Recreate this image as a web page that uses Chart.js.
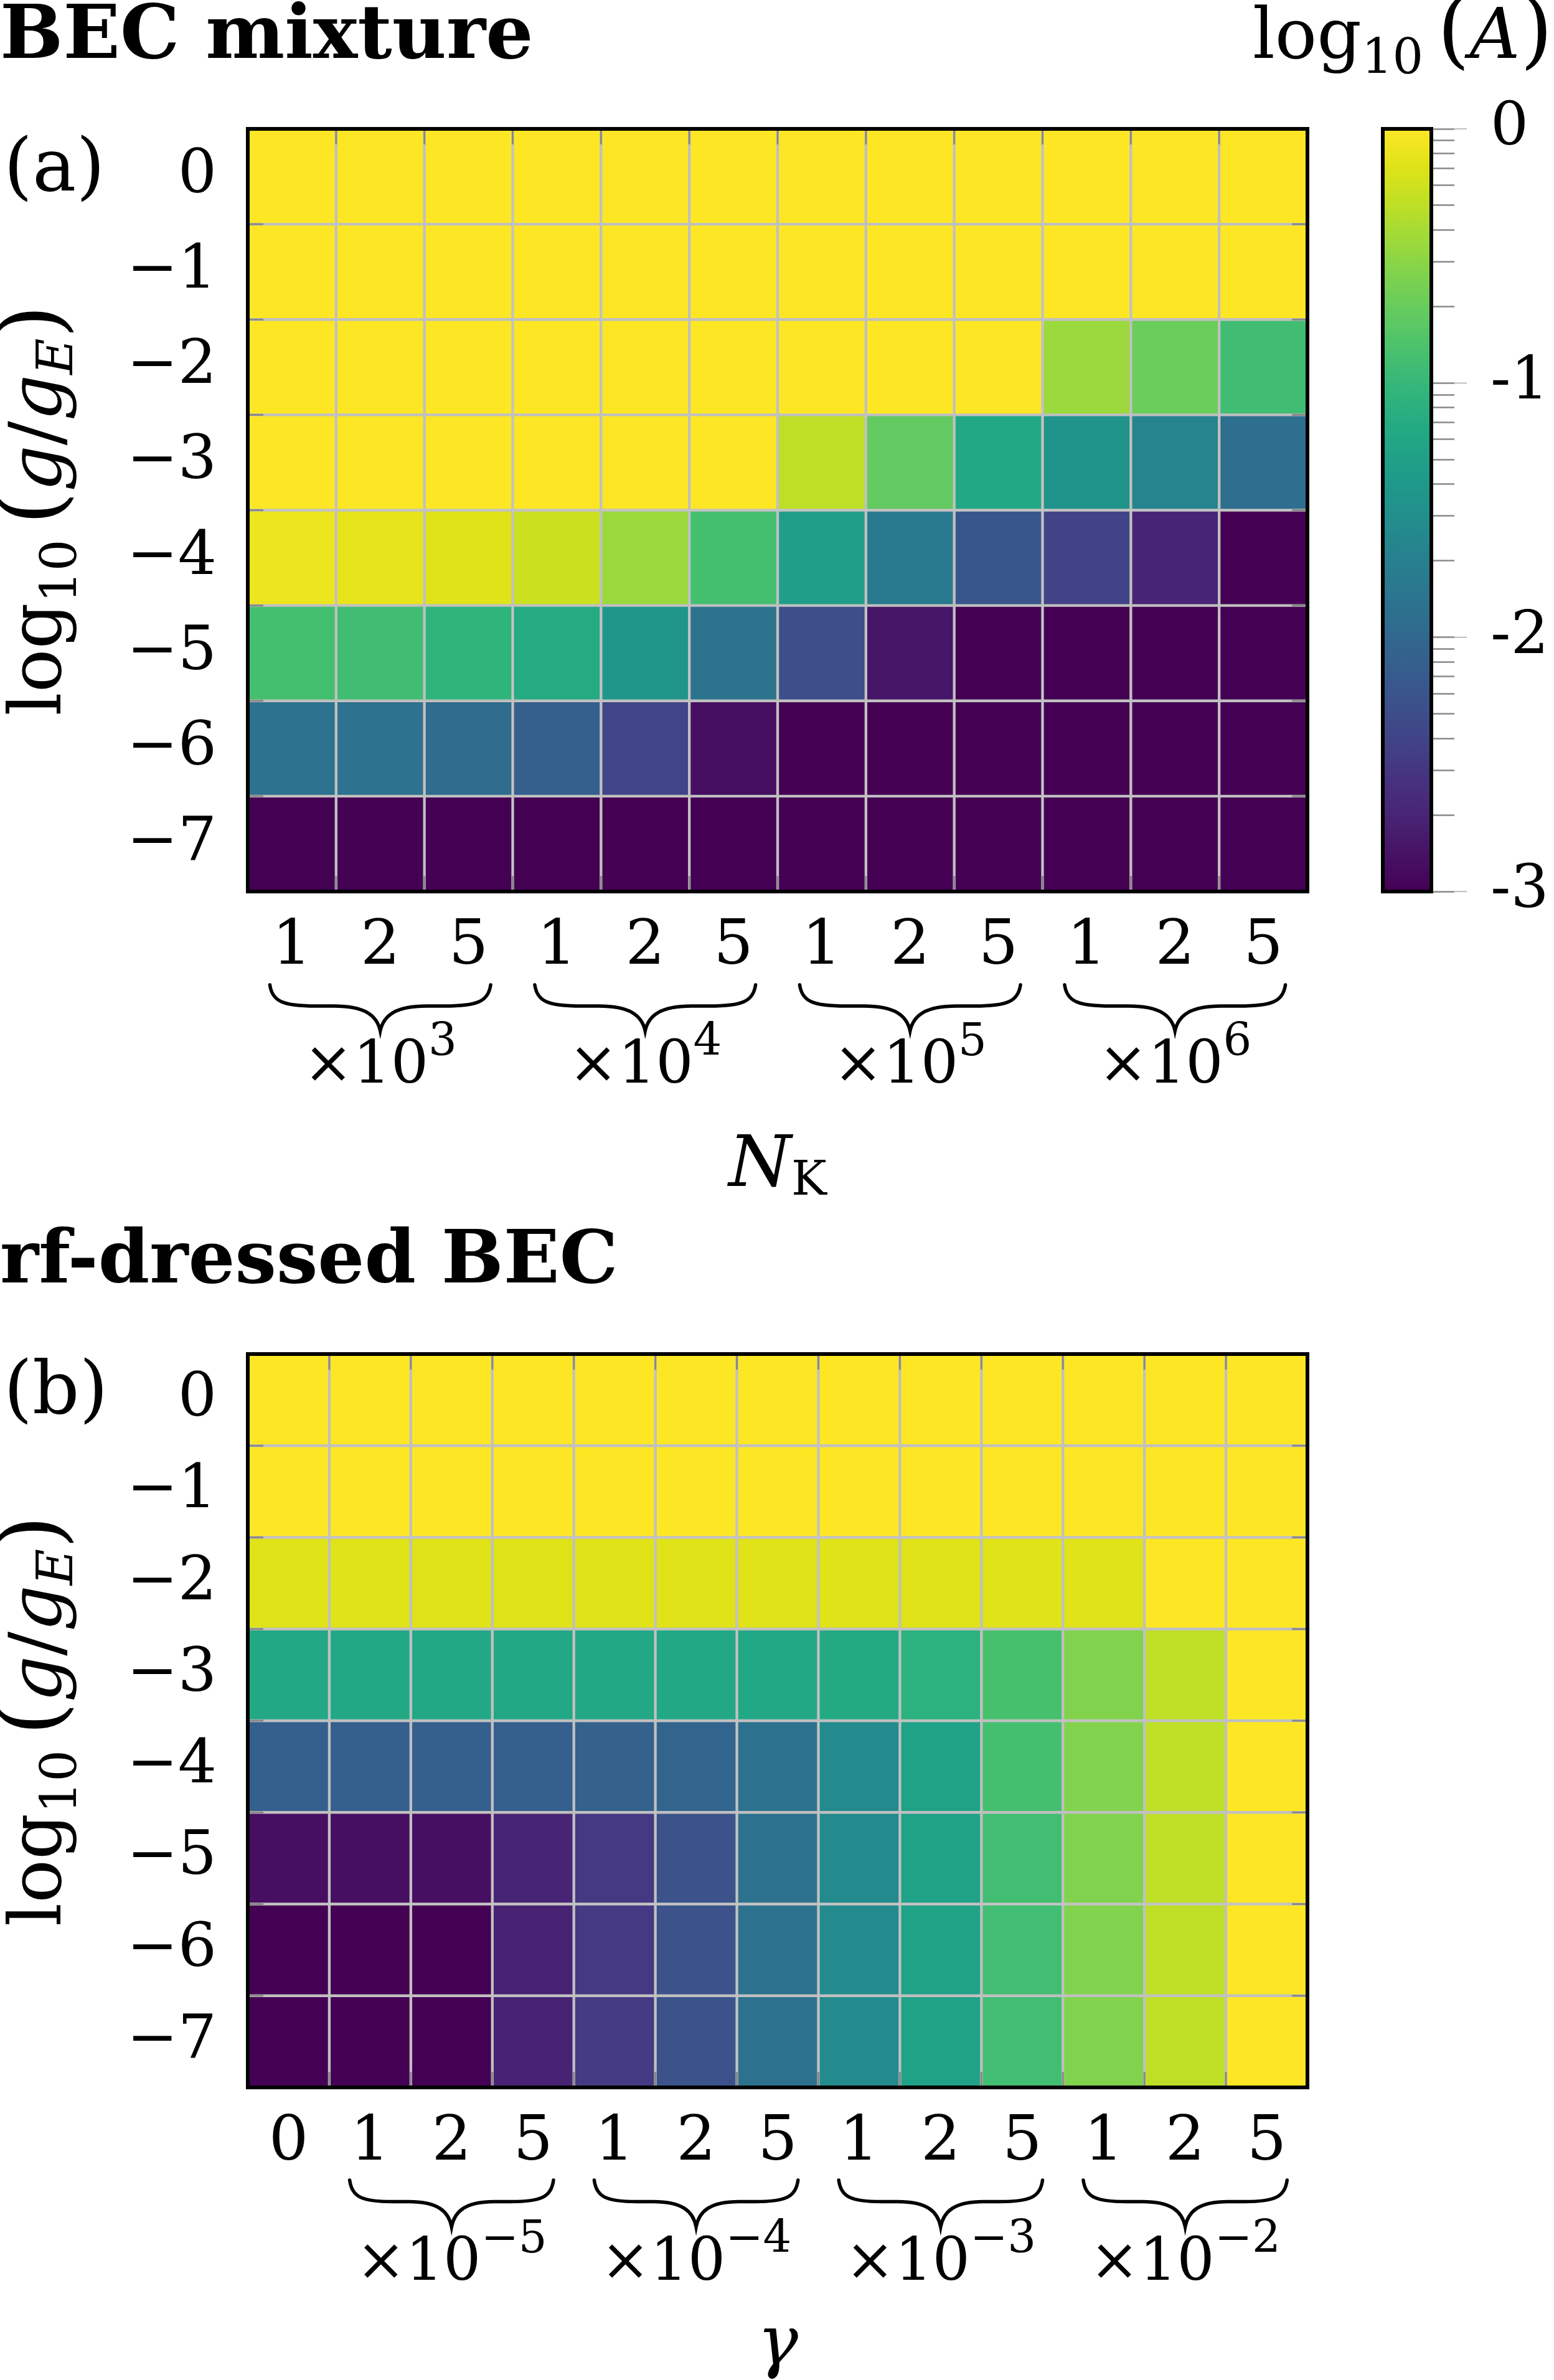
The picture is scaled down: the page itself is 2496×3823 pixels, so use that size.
<!DOCTYPE html>
<html>
<head>
<meta charset="utf-8">
<script src="https://cdn.jsdelivr.net/npm/chart.js@4.4.0/dist/chart.umd.min.js"></script>
<style>
html, body { margin: 0; padding: 0; background: #fff; }
body { width: 2496px; height: 3823px; position: relative; overflow: hidden; }
canvas { position: absolute; }
</style>
</head>
<body>
<canvas id="mix" width="2496" height="1950" style="left:0;top:0"></canvas>
<canvas id="cbar" width="346" height="1350" style="left:2150px;top:150px"></canvas>
<canvas id="rf" width="2496" height="1923" style="left:0;top:1900px"></canvas>
<script>
// rows of both maps: log10(g/gE)
const rowVals = [0, -1, -2, -3, -4, -5, -6, -7];

// (a) BEC mixture, columns N_K = 1,2,5 x 10^3 ... 10^6, values log10(A)
const mixTicks = ['1', '2', '5', '1', '2', '5', '1', '2', '5', '1', '2', '5'];
const mixExp = ['3', '4', '5', '6'];
const mix0 = [0, 0, 0, 0, 0, 0, 0, 0, 0, 0, 0, 0];
const mix1 = [0, 0, 0, 0, 0, 0, 0, 0, 0, 0, 0, 0];
const mix2 = [0, 0, 0, 0, 0, 0, 0, 0, 0, -0.45, -0.68, -0.93];
const mix3 = [0, 0, 0, 0, 0, 0, -0.3, -0.73, -1.2, -1.47, -1.65, -1.92];
const mix4 = [-0.08, -0.11, -0.15, -0.24, -0.45, -0.9, -1.32, -1.77, -2.2, -2.42, -2.7, -3];
const mix5 = [-0.9, -0.93, -1.05, -1.17, -1.43, -1.85, -2.28, -2.82, -3, -3, -3, -3];
const mix6 = [-1.88, -1.88, -1.95, -2.1, -2.4, -2.88, -3, -3, -3, -3, -3, -3];
const mix7 = [-3, -3, -3, -3, -3, -3, -3, -3, -3, -3, -3, -3];

// (b) rf-dressed BEC, columns gamma = 0, 1,2,5 x 10^-5 ... 10^-2
const rfTicks = ['0', '1', '2', '5', '1', '2', '5', '1', '2', '5', '1', '2', '5'];
const rfExp = ['\u22125', '\u22124', '\u22123', '\u22122'];
const rf0 = [0, 0, 0, 0, 0, 0, 0, 0, 0, 0, 0, 0, 0];
const rf1 = [0, 0, 0, 0, 0, 0, 0, 0, 0, 0, 0, 0, 0];
const rf2 = [-0.15, -0.15, -0.15, -0.15, -0.15, -0.15, -0.15, -0.15, -0.15, -0.15, -0.15, 0, 0];
const rf3 = [-1.2, -1.2, -1.2, -1.2, -1.2, -1.2, -1.2, -1.18, -1.08, -0.88, -0.57, -0.3, 0];
const rf4 = [-2.1, -2.1, -2.1, -2.1, -2.07, -2.03, -1.87, -1.57, -1.28, -0.9, -0.57, -0.3, 0];
const rf5 = [-2.88, -2.88, -2.88, -2.7, -2.5, -2.25, -1.87, -1.57, -1.28, -0.92, -0.57, -0.3, 0];
const rf6 = [-3, -3, -3, -2.72, -2.5, -2.25, -1.87, -1.57, -1.28, -0.92, -0.57, -0.3, 0];
const rf7 = [-3, -3, -3, -2.72, -2.48, -2.25, -1.87, -1.57, -1.28, -0.92, -0.57, -0.3, 0];

// colour bar ticks
const cbMajor = [0, -1, -2, -3];
const cbMinor = [9, 8, 7, 6, 5, 4, 3, 2];

const SERIF = '"DejaVu Serif", serif';
const F = (size, style) => (style ? style + ' ' : '') + size + 'px ' + SERIF;

const VIR = ['#440154', '#471365', '#482475', '#46337f', '#414487', '#3b528b', '#355f8d',
  '#2f6c8e', '#2a788e', '#25848e', '#21918c', '#1e9c89', '#22a884', '#2fb47c', '#44bf70',
  '#5ec962', '#7ad151', '#9bd93c', '#bddf26', '#dfe318', '#fde725'];

function hex(c) { return [1, 3, 5].map(i => parseInt(c.substr(i, 2), 16)); }
function viridis(v) {
  let t = Math.min(1, Math.max(0, (v + 3) / 3)) * (VIR.length - 1);
  let i = Math.min(VIR.length - 2, Math.floor(t)), f = t - i;
  let a = hex(VIR[i]), b = hex(VIR[i + 1]);
  return 'rgb(' + a.map((x, k) => Math.round(x + (b[k] - x) * f)).join(',') + ')';
}
function minus(v) { return v === 0 ? '0' : '\u2212' + Math.abs(v); }

function rich(ctx, parts, x, y, align) {
  let w = 0;
  parts.forEach(p => { ctx.font = p[1]; w += ctx.measureText(p[0]).width; });
  let cx = align === 'center' ? x - w / 2 : align === 'right' ? x - w : x;
  ctx.textBaseline = 'alphabetic';
  ctx.textAlign = 'left';
  ctx.fillStyle = '#000';
  parts.forEach(p => {
    ctx.font = p[1];
    ctx.fillText(p[0], cx, y + (p[2] || 0));
    cx += ctx.measureText(p[0]).width;
  });
}

function line(ctx, x1, y1, x2, y2) {
  ctx.beginPath(); ctx.moveTo(x1, y1); ctx.lineTo(x2, y2); ctx.stroke();
}

function drawBrace(ctx, x1, x2, top, h) {
  const xc = (x1 + x2) / 2, half = (x2 - x1) / 2, ym = top + 0.46 * h;
  ctx.save();
  ctx.strokeStyle = '#000';
  ctx.lineWidth = 5.5;
  ctx.lineCap = 'round';
  ctx.beginPath();
  ctx.moveTo(x1, top);
  ctx.bezierCurveTo(x1 + 0.02 * half, ym - 0.1 * h, x1 + 0.12 * half, ym, x1 + 0.42 * half, ym);
  ctx.lineTo(xc - 0.42 * half, ym);
  ctx.bezierCurveTo(xc - 0.14 * half, ym, xc - 0.03 * half, ym + 0.2 * h, xc, top + h);
  ctx.bezierCurveTo(xc + 0.03 * half, ym + 0.2 * h, xc + 0.14 * half, ym, xc + 0.42 * half, ym);
  ctx.lineTo(x2 - 0.42 * half, ym);
  ctx.bezierCurveTo(x2 - 0.12 * half, ym, x2 - 0.02 * half, ym - 0.1 * h, x2, top);
  ctx.stroke();
  ctx.restore();
}

const framePlugin = {
  id: 'frame',
  afterDatasetsDraw(chart) {
    const { ctx, chartArea: a, scales: { x, y } } = chart;
    const n = chart.data.labels.length;
    ctx.save();
    ctx.strokeStyle = '#888';
    ctx.lineWidth = 3;
    for (let j = 1; j < n; j++) {
      const px = (x.getPixelForValue(j - 1) + x.getPixelForValue(j)) / 2;
      line(ctx, px, a.top, px, a.top + 25);
      line(ctx, px, a.bottom - 25, px, a.bottom);
    }
    for (let k = 0; k < rowVals.length - 1; k++) {
      const py = y.getPixelForValue(rowVals[k] - 0.5);
      line(ctx, a.left, py, a.left + 25, py);
      line(ctx, a.right - 25, py, a.right, py);
    }
    ctx.strokeStyle = '#000';
    ctx.lineWidth = 6;
    ctx.strokeRect(a.left, a.top, a.right - a.left, a.bottom - a.top);
    ctx.restore();
  }
};

function yTitle(ctx, cy) {
  ctx.save();
  ctx.translate(97, cy);
  ctx.rotate(-Math.PI / 2);
  rich(ctx, [['log', F(116)], ['10', F(80), 25], ['\u2009', F(116)], ['(', F(138)], ['g', F(116, 'italic')],
    ['/', F(116)], ['g', F(116, 'italic')], ['E', F(80, 'italic'), 19], [')', F(138)]], 0, 0, 'center');
  ctx.restore();
}

function groupBraces(chart, labels, exps, top, h, base) {
  const { ctx, scales: { x } } = chart;
  const cw = x.getPixelForValue(1) - x.getPixelForValue(0);
  const starts = labels.map((l, i) => l === '1' ? i : -1).filter(i => i >= 0);
  starts.forEach((c, i) => {
    drawBrace(ctx, x.getPixelForValue(c) - 0.25 * cw, x.getPixelForValue(c + 2) + 0.25 * cw, top, h);
    rich(ctx, [['\u00d710', F(95)], [exps[i], F(72), -44]], x.getPixelForValue(c + 1), base, 'center');
  });
}

function heatChart(id, labels, grid, padTop, padBottom, extra) {
  return new Chart(document.getElementById(id), {
    type: 'bar',
    data: {
      labels: labels,
      datasets: rowVals.map((r, i) => ({
        data: grid[i].map(() => [r - 0.5, r + 0.5]),
        backgroundColor: grid[i].map(viridis),
        borderColor: '#c0c0c0',
        borderWidth: 2.5,
        borderSkipped: false,
        grouped: false,
        barPercentage: 1,
        categoryPercentage: 1
      }))
    },
    options: {
      responsive: false,
      animation: false,
      devicePixelRatio: 1,
      layout: { padding: { left: 0, right: 396, top: padTop, bottom: padBottom } },
      plugins: { legend: { display: false }, tooltip: { enabled: false } },
      scales: {
        x: {
          offset: true,
          grid: { display: false },
          border: { display: false },
          ticks: { font: { family: SERIF, size: 100 }, color: '#000', padding: 22, maxRotation: 0, autoSkip: false },
          afterFit(s) { s.height = 250; }
        },
        y: {
          min: -7.5, max: 0.5,
          grid: { display: false },
          border: { display: false },
          afterBuildTicks(s) { s.ticks = rowVals.map(v => ({ value: v })); },
          ticks: { font: { family: SERIF, size: 98 }, color: '#000', padding: 42, autoSkip: false, callback: v => minus(v) },
          afterFit(s) { s.width = 398; }
        }
      }
    },
    plugins: [framePlugin, extra]
  });
}

heatChart('mix', mixTicks, [mix0, mix1, mix2, mix3, mix4, mix5, mix6, mix7], 207, 268, {
  id: 'mixText',
  afterDraw(chart) {
    const { ctx, chartArea: a } = chart;
    rich(ctx, [['BEC mixture', F(120, 'bold')]], 0, 93, 'left');
    rich(ctx, [['(a)', F(118)]], 6, 306, 'left');
    yTitle(ctx, (a.top + a.bottom) / 2);
    groupBraces(chart, mixTicks, mixExp, 1582, 74, 1739);
    rich(ctx, [['N', F(115, 'italic')], ['K', F(76), 14]], (a.left + a.right) / 2, 1905, 'center');
    rich(ctx, [['log', F(112)], ['10', F(78), 25], ['\u2009', F(112)], ['(', F(134)], ['A', F(112, 'italic')], [')', F(134)]], 2494, 93, 'right');
  }
});

heatChart('rf', rfTicks, [rf0, rf1, rf2, rf3, rf4, rf5, rf6, rf7], 275, 220, {
  id: 'rfText',
  afterDraw(chart) {
    const { ctx, chartArea: a } = chart;
    rich(ctx, [['rf-dressed BEC', F(118, 'bold')]], 0, 160, 'left');
    rich(ctx, [['(b)', F(118)]], 6, 370, 'left');
    yTitle(ctx, (a.top + a.bottom) / 2);
    groupBraces(chart, rfTicks, rfExp, 1602, 75, 1762);
    rich(ctx, [['\u03b3', F(110, 'italic')]], (a.left + a.right) / 2, 1898, 'center');
  }
});

new Chart(document.getElementById('cbar'), {
  type: 'bar',
  data: {
    labels: [''],
    datasets: [{
      data: [[-3, 0]],
      barPercentage: 1,
      categoryPercentage: 1,
      borderWidth: 0,
      backgroundColor(c) {
        const a = c.chart.chartArea;
        if (!a) return VIR[10];
        const g = c.chart.ctx.createLinearGradient(0, a.bottom, 0, a.top);
        VIR.forEach((col, i) => g.addColorStop(i / (VIR.length - 1), col));
        return g;
      }
    }]
  },
  options: {
    responsive: false,
    animation: false,
    devicePixelRatio: 1,
    layout: { padding: { left: 71, right: 0, top: 57, bottom: 68 } },
    plugins: { legend: { display: false }, tooltip: { enabled: false } },
    scales: {
      x: { display: false },
      y: {
        position: 'right',
        min: -3, max: 0,
        border: { display: false },
        grid: { drawOnChartArea: false, tickLength: 37, tickColor: '#888', tickWidth: 2.5 },
        afterBuildTicks(s) {
          const t = [];
          cbMajor.forEach(m => {
            t.push({ value: m });
            if (m > -3) cbMinor.forEach(k => t.push({ value: m + Math.log10(k / 10) }));
          });
          s.ticks = t;
        },
        ticks: {
          font: { family: SERIF, size: 96 }, color: '#000', padding: 58, autoSkip: false,
          callback: v => Number.isInteger(v) ? (v === 0 ? '0' : '-' + Math.abs(v)) : ''
        },
        afterFit(s) { s.width = 197; s.paddingTop = 0; s.paddingBottom = 0; }
      }
    }
  },
  plugins: [{
    id: 'cbFrame',
    afterDraw(chart) {
      const { ctx, chartArea: a, scales: { y } } = chart;
      ctx.save();
      ctx.strokeStyle = '#aaa';
      ctx.lineWidth = 1.5;
      cbMajor.forEach(m => line(ctx, a.right + 37, y.getPixelForValue(m), a.right + 57, y.getPixelForValue(m)));
      ctx.strokeStyle = '#000';
      ctx.lineWidth = 6;
      ctx.strokeRect(a.left, a.top, a.right - a.left, a.bottom - a.top);
      ctx.restore();
    }
  }]
});
</script>
</body>
</html>
